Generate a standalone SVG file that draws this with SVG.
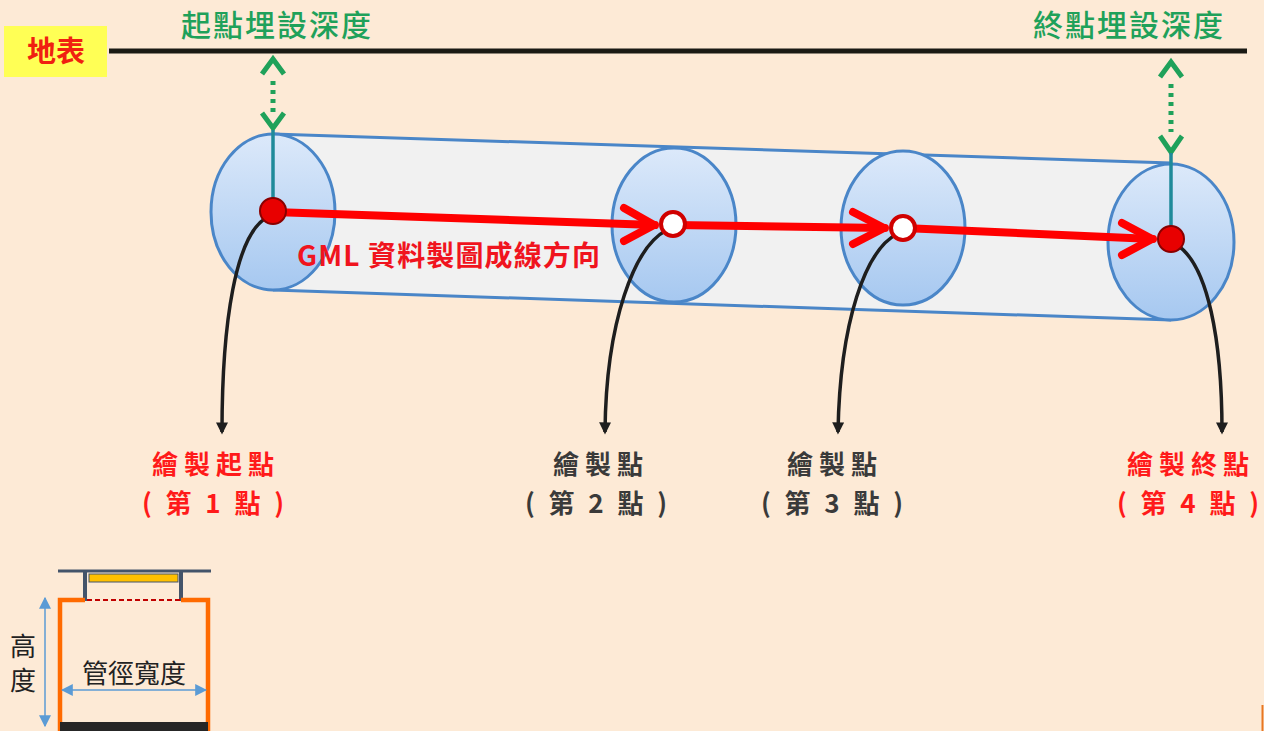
<svg xmlns="http://www.w3.org/2000/svg" width="1264" height="731" viewBox="0 0 1264 731">
  <style>
    .cjk { font-family: "Noto Sans CJK TC", "Noto Sans CJK SC", sans-serif; }
    .lbl { font-size: 26px; font-weight: bold; text-anchor: middle; }
    .wide { letter-spacing: 6px; }
    .red { fill: #FF1A1A; }
    .dark { fill: #3A3A3A; }
    .green { fill: #1FA15A; font-size: 30px; font-weight: 500; text-anchor: middle; letter-spacing: 2px; }
    .disc { stroke: #4A86C8; stroke-width: 3; fill: url(#discFill); }
    .lead { fill: none; stroke: #1E1E1E; stroke-width: 3.5; }
    .flow { stroke: #FF0000; stroke-width: 8; fill: none; stroke-linecap: round; }
    .chev { stroke: #FF0000; stroke-width: 8; fill: none; stroke-linecap: round; stroke-linejoin: round; }
    .depth { stroke: #1FA15A; stroke-width: 5; fill: none; }
    .teal { stroke: #1F8A9A; stroke-width: 3.5; }
  </style>
  <defs>
    <linearGradient id="discFill" x1="0" y1="0" x2="0" y2="1">
      <stop offset="0" stop-color="#DCE9FA"/>
      <stop offset="1" stop-color="#A6C8F0"/>
    </linearGradient>
    <marker id="leadHead" viewBox="0 0 10 10" refX="8" refY="5" markerWidth="14" markerHeight="12" orient="auto" markerUnits="userSpaceOnUse">
      <path d="M0,0 L10,5 L0,10 Z" fill="#1E1E1E"/>
    </marker>
    <marker id="blueHead" viewBox="0 0 10 10" refX="9" refY="5" markerWidth="12" markerHeight="12" orient="auto-start-reverse" markerUnits="userSpaceOnUse">
      <path d="M0,0 L10,5 L0,10 Z" fill="#5B9BD5"/>
    </marker>
  </defs>

  <!-- background -->
  <rect x="0" y="0" width="1264" height="731" fill="#FDEAD6"/>

  <!-- ground surface -->
  <g id="ground">
    <line x1="109" y1="51" x2="1247" y2="51" stroke="#1A1A14" stroke-width="5"/>
    <rect x="4" y="26" width="103" height="51" fill="#FFFF55"/>
    <text x="56" y="62" class="cjk" font-size="29" font-weight="bold" fill="#F02010" text-anchor="middle">地表</text>
  </g>

  <!-- depth labels -->
  <g id="start-depth">
    <text x="277" y="36" class="cjk green">起點埋設深度</text>
    <path class="depth" d="M262,74 L273,59 L284,74"/>
    <line x1="273" y1="81" x2="273" y2="112" stroke="#1FA15A" stroke-width="5" stroke-dasharray="4,5"/>
    <path class="depth" d="M262,113 L273,128 L284,113"/>
  </g>
  <g id="end-depth">
    <text x="1129" y="36" class="cjk green">終點埋設深度</text>
    <path class="depth" d="M1160,77 L1171,62 L1182,77"/>
    <line x1="1171" y1="84" x2="1171" y2="132" stroke="#1FA15A" stroke-width="5" stroke-dasharray="4,5"/>
    <path class="depth" d="M1160,136 L1171,152 L1182,136"/>
  </g>

  <!-- pipe body -->
  <g id="pipe">
    <polygon points="273,134 1171,163 1171,320 273,290" fill="#F1F1F1"/>
    <line x1="273" y1="134" x2="1171" y2="163" stroke="#4A86C8" stroke-width="3"/>
    <line x1="273" y1="290" x2="1171" y2="320" stroke="#4A86C8" stroke-width="3"/>
    <ellipse class="disc" cx="273" cy="212" rx="62" ry="78"/>
    <ellipse class="disc" cx="674" cy="225" rx="62" ry="77"/>
    <ellipse class="disc" cx="903" cy="228" rx="62" ry="77"/>
    <ellipse class="disc" cx="1171" cy="242" rx="63" ry="78"/>
    <line class="teal" x1="273" y1="130" x2="273" y2="204"/>
    <line class="teal" x1="1171" y1="153" x2="1171" y2="232"/>
  </g>

  <!-- drawing direction and leader lines -->
  <g id="connectors">
    <line class="flow" x1="273" y1="212" x2="655" y2="225"/>
    <path class="chev" d="M624,208 L654,225 L624,241"/>
    <line class="flow" x1="674" y1="225" x2="885" y2="228"/>
    <path class="chev" d="M853,212 L884,228 L853,244"/>
    <line class="flow" x1="903" y1="228" x2="1153" y2="239"/>
    <path class="chev" d="M1122,223 L1152,239 L1122,255"/>

    <path class="lead" d="M266,218 C236,236 222,320 222,432" marker-end="url(#leadHead)"/>
    <path class="lead" d="M667,230 C635,246 606,320 605,432" marker-end="url(#leadHead)"/>
    <path class="lead" d="M897,234 C866,250 840,320 838,432" marker-end="url(#leadHead)"/>
    <path class="lead" d="M1177,245 C1208,265 1222,340 1222,432" marker-end="url(#leadHead)"/>
  </g>

  <text x="297" y="266" class="cjk" font-size="28" font-weight="bold" fill="#F0141E" textLength="303" lengthAdjust="spacing">GML 資料製圖成線方向</text>

  <!-- drawing points -->
  <g id="point1">
    <circle cx="273" cy="211" r="13" fill="#E80000" stroke="#8A0000" stroke-width="2"/>
    <text x="216" y="474" class="cjk lbl wide red">繪製起點</text>
    <text x="213" y="513" class="cjk lbl red" textLength="142" lengthAdjust="spacing">( 第 1 點 )</text>
  </g>
  <g id="point2">
    <circle cx="673" cy="224" r="12" fill="#FFFFFF" stroke="#D00000" stroke-width="4"/>
    <text x="601" y="474" class="cjk lbl wide dark">繪製點</text>
    <text x="596" y="513" class="cjk lbl dark" textLength="142" lengthAdjust="spacing">( 第 2 點 )</text>
  </g>
  <g id="point3">
    <circle cx="903" cy="228" r="12" fill="#FFFFFF" stroke="#D00000" stroke-width="4"/>
    <text x="835" y="474" class="cjk lbl wide dark">繪製點</text>
    <text x="832" y="513" class="cjk lbl dark" textLength="142" lengthAdjust="spacing">( 第 3 點 )</text>
  </g>
  <g id="point4">
    <circle cx="1171" cy="239" r="13" fill="#E80000" stroke="#8A0000" stroke-width="2"/>
    <text x="1191" y="474" class="cjk lbl wide red">繪製終點</text>
    <text x="1188" y="513" class="cjk lbl red" textLength="142" lengthAdjust="spacing">( 第 4 點 )</text>
  </g>

  <!-- cross-section sketch -->
  <g id="section">
    <line x1="58" y1="571" x2="211" y2="571" stroke="#44546A" stroke-width="3"/>
    <path d="M85,571 L85,601 M181,571 L181,601" stroke="#44546A" stroke-width="4"/>
    <rect x="89" y="574" width="89" height="8" fill="#FFC000" stroke="#44546A" stroke-width="1"/>
    <path d="M60,731 L60,600 L85,600 M181,600 L208,600 L208,731" fill="none" stroke="#FF6A00" stroke-width="4.5"/>
    <line x1="87" y1="600" x2="181" y2="600" stroke="#C00000" stroke-width="2" stroke-dasharray="5,3"/>
    <rect x="60" y="722" width="148" height="9" fill="#262626"/>
    <line x1="45" y1="598" x2="45" y2="726" stroke="#5B9BD5" stroke-width="1.5" marker-start="url(#blueHead)" marker-end="url(#blueHead)"/>
    <line x1="62" y1="690" x2="206" y2="690" stroke="#5B9BD5" stroke-width="1.5" marker-start="url(#blueHead)" marker-end="url(#blueHead)"/>
    <text x="23" y="656" class="cjk" font-size="26" fill="#222" text-anchor="middle">高</text>
    <text x="23" y="690" class="cjk" font-size="26" fill="#222" text-anchor="middle">度</text>
    <text x="134" y="683" class="cjk" font-size="26" fill="#222" text-anchor="middle">管徑寬度</text>
  </g>

  <line x1="1262.5" y1="705" x2="1262.5" y2="731" stroke="#E87722" stroke-width="2"/>
</svg>
